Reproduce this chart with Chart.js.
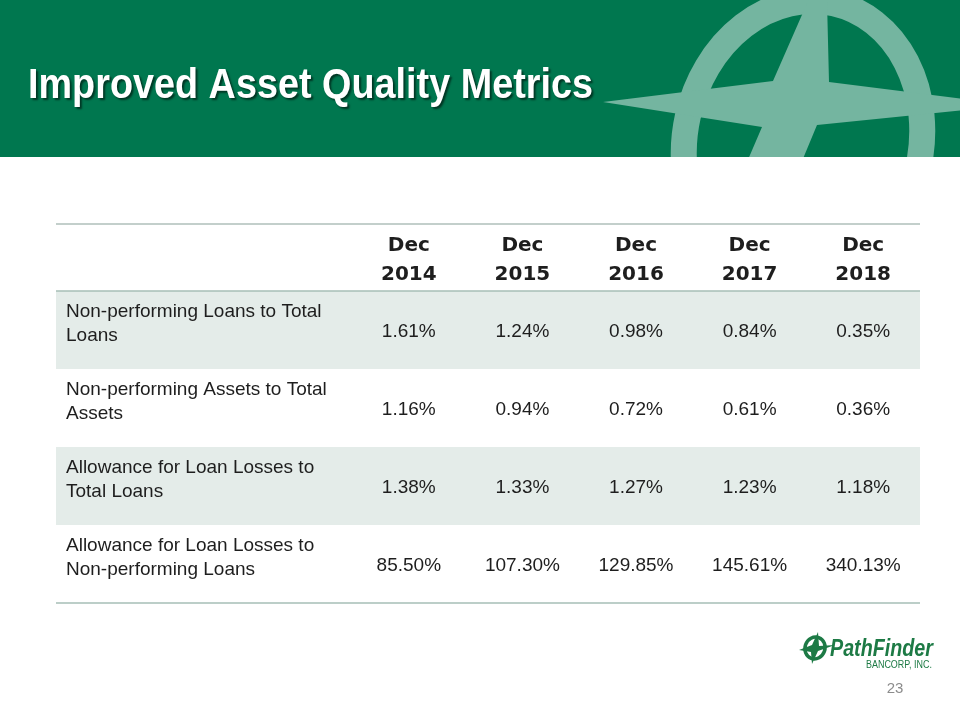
<!DOCTYPE html>
<html>
<head>
<meta charset="utf-8">
<title>Improved Asset Quality Metrics</title>
<script src="https://cdn.jsdelivr.net/npm/chart.js@4.4.1/dist/chart.umd.min.js"></script>
<style>
  html, body { margin: 0; padding: 0; background: #fff; }
  #wrap { width: 960px; height: 720px; position: relative; }
</style>
</head>
<body>
<div id="wrap"><canvas id="myChart"></canvas></div>
<script>
// table data
const slideTitle = 'Improved Asset Quality Metrics';
const periods = ['Dec 2014', 'Dec 2015', 'Dec 2016', 'Dec 2017', 'Dec 2018'];
const metrics = [
    ['Non-performing Loans to Total', 'Loans'],
    ['Non-performing Assets to Total', 'Assets'],
    ['Allowance for Loan Losses to', 'Total Loans'],
    ['Allowance for Loan Losses to', 'Non-performing Loans']
];
const npLoansToTotalLoans = [1.61, 1.24, 0.98, 0.84, 0.35];
const npAssetsToTotalAssets = [1.16, 0.94, 0.72, 0.61, 0.36];
const allowanceToTotalLoans = [1.38, 1.33, 1.27, 1.23, 1.18];
const allowanceToNpLoans = [85.50, 107.30, 129.85, 145.61, 340.13];
const pageNumber = '23';

const rows = [npLoansToTotalLoans, npAssetsToTotalAssets, allowanceToTotalLoans, allowanceToNpLoans];

const GREEN = '#00774f';
const LIGHT = '#74b5a0';
const TEXT = '#1e1e1e';
const SHADE = '#e4ece9';
const TABLE_LEFT = 56;
const HEADER_H = 67;

function poly(ctx, pts) {
    ctx.beginPath();
    ctx.moveTo(pts[0][0], pts[0][1]);
    for (let i = 1; i < pts.length; i++) ctx.lineTo(pts[i][0], pts[i][1]);
    ctx.closePath();
    ctx.fill();
}

function fitText(ctx, text, x, y, width) {
    const w = ctx.measureText(text).width;
    ctx.save();
    ctx.translate(x, y);
    ctx.scale(width / w, 1);
    ctx.fillText(text, 0, 0);
    ctx.restore();
}

function drawHeader(ctx) {
    ctx.fillStyle = GREEN;
    ctx.fillRect(0, 0, 960, 157);

    ctx.save();
    ctx.beginPath();
    ctx.rect(0, 0, 960, 157);
    ctx.clip();
    ctx.strokeStyle = LIGHT;
    ctx.lineWidth = 26;
    ctx.beginPath();
    ctx.ellipse(803, 142, 118, 142, 0.22, 0, Math.PI * 2);
    ctx.stroke();
    ctx.fillStyle = LIGHT;
    poly(ctx, [[603, 102], [773, 81], [826, -40], [829, 82], [1013, 105], [817, 125],
               [790, 190], [735, 190], [762, 127]]);
    ctx.restore();

    ctx.save();
    ctx.font = 'bold 42px "Liberation Sans Narrow", "Liberation Sans", sans-serif';
    ctx.textBaseline = 'alphabetic';
    ctx.fillStyle = '#ffffff';
    ctx.shadowColor = 'rgba(0,0,0,0.55)';
    ctx.shadowOffsetX = 2;
    ctx.shadowOffsetY = 2;
    ctx.shadowBlur = 2;
    fitText(ctx, slideTitle, 28, 98, 565);
    ctx.restore();
}

function drawFooter(ctx) {
    const c = '#1d7a45';
    ctx.save();
    ctx.strokeStyle = c;
    ctx.fillStyle = c;
    ctx.lineWidth = 3.5;
    ctx.beginPath();
    ctx.ellipse(815, 648, 10, 11, 0.35, 0, Math.PI * 2);
    ctx.stroke();
    poly(ctx, [[799, 650], [812, 645], [818, 632], [819, 646], [835, 645], [818, 651],
               [812, 664], [811, 652]]);
    ctx.font = 'italic bold 24px "Liberation Sans", sans-serif';
    ctx.textBaseline = 'alphabetic';
    fitText(ctx, 'PathFinder', 830, 656, 103);
    ctx.font = '11px "Liberation Sans Narrow", "Liberation Sans", sans-serif';
    fitText(ctx, 'BANCORP, INC.', 866, 668, 66);
    ctx.fillStyle = '#8c8c8c';
    ctx.font = '15px "Liberation Sans", sans-serif';
    ctx.textAlign = 'center';
    ctx.textBaseline = 'middle';
    ctx.fillText(pageNumber, 895, 689);
    ctx.restore();
}

const slidePlugin = {
    id: 'slide',
    beforeDraw(chart) {
        const ctx = chart.ctx;
        const x = chart.scales.x;
        const y = chart.scales.y;
        const right = chart.chartArea.right;
        ctx.save();
        ctx.fillStyle = '#ffffff';
        ctx.fillRect(0, 0, chart.width, chart.height);
        drawHeader(ctx);

        // shaded rows
        rows.forEach((r, i) => {
            if (i % 2 !== 0) return;
            const top = y.getPixelForValue(i - 0.5);
            const bottom = y.getPixelForValue(i + 0.5);
            ctx.fillStyle = SHADE;
            ctx.fillRect(TABLE_LEFT, top, right - TABLE_LEFT, bottom - top);
        });

        // rules
        const bodyTop = y.getPixelForValue(-0.5);
        const bodyBottom = y.getPixelForValue(rows.length - 0.5);
        ctx.strokeStyle = '#c3cfcb';
        ctx.lineWidth = 2;
        ctx.beginPath();
        ctx.moveTo(TABLE_LEFT, bodyTop - HEADER_H);
        ctx.lineTo(right, bodyTop - HEADER_H);
        ctx.stroke();
        ctx.strokeStyle = '#a6bfb6';
        ctx.lineWidth = 1.5;
        ctx.beginPath();
        ctx.moveTo(TABLE_LEFT, bodyTop);
        ctx.lineTo(right, bodyTop);
        ctx.moveTo(TABLE_LEFT, bodyBottom);
        ctx.lineTo(right, bodyBottom);
        ctx.stroke();

        // column headings
        ctx.fillStyle = TEXT;
        ctx.font = 'bold 20px "DejaVu Sans", sans-serif';
        ctx.textAlign = 'center';
        ctx.textBaseline = 'middle';
        periods.forEach((p, j) => {
            const cx = x.getPixelForValue(j);
            const parts = p.split(' ');
            ctx.fillText(parts[0], cx, bodyTop - 45);
            ctx.fillText(parts[1], cx, bodyTop - 16);
        });

        // row labels
        ctx.font = '19px "Liberation Sans", sans-serif';
        ctx.textAlign = 'left';
        metrics.forEach((m, i) => {
            const top = y.getPixelForValue(i - 0.5);
            ctx.fillText(m[0], 66, top + 21);
            ctx.fillText(m[1], 66, top + 45);
        });

        drawFooter(ctx);
        ctx.restore();
    },
    afterDatasetsDraw(chart) {
        const ctx = chart.ctx;
        ctx.save();
        ctx.fillStyle = TEXT;
        ctx.font = '19px "Liberation Sans", sans-serif';
        ctx.textAlign = 'center';
        ctx.textBaseline = 'middle';
        chart.data.datasets.forEach((ds, i) => {
            const meta = chart.getDatasetMeta(i);
            meta.data.forEach((pt, j) => {
                ctx.fillText(ds.data[j].v.toFixed(2) + '%', pt.x, pt.y + 2);
            });
        });
        ctx.restore();
    }
};

const ctx = document.getElementById('myChart').getContext('2d');

new Chart(ctx, {
    type: 'scatter',
    data: {
        datasets: rows.map((vals, i) => ({
            label: metrics[i].join(' '),
            data: vals.map((v, j) => ({ x: j, y: i, v: v })),
            pointRadius: 0,
            pointHoverRadius: 0,
            borderWidth: 0
        }))
    },
    options: {
        responsive: true,
        maintainAspectRatio: false,
        animation: false,
        events: [],
        layout: {
            autoPadding: false,
            padding: { left: 352, right: 40, top: 291, bottom: 117 }
        },
        plugins: {
            legend: { display: false },
            tooltip: { enabled: false }
        },
        scales: {
            x: { type: 'linear', min: -0.5, max: periods.length - 0.5, display: false },
            y: { type: 'linear', min: -0.5, max: rows.length - 0.5, reverse: true, display: false }
        }
    },
    plugins: [slidePlugin]
});
</script>
</body>
</html>
